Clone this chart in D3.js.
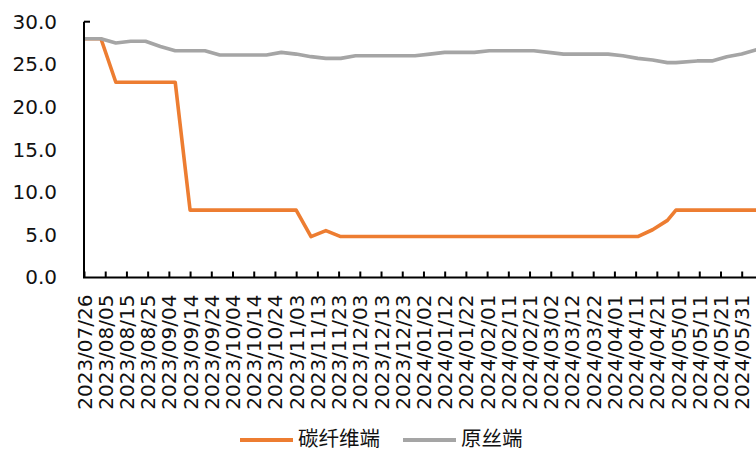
<!DOCTYPE html>
<html><head><meta charset="utf-8">
<script src="https://cdn.jsdelivr.net/npm/d3@7"></script>
<style>html,body{margin:0;padding:0;background:#fff;overflow:hidden}</style>
</head><body>
<svg id="chart" width="756" height="452"></svg>
<script>
// ---- data ----
const dates = ["2023/07/26","2023/08/03","2023/08/10","2023/08/17","2023/08/24","2023/08/31","2023/09/07","2023/09/14","2023/09/21","2023/09/28",
  "2023/10/13","2023/10/20","2023/10/27","2023/11/03","2023/11/10","2023/11/17","2023/11/24","2023/12/01","2023/12/08","2023/12/15",
  "2023/12/22","2023/12/29","2024/01/05","2024/01/12","2024/01/19","2024/01/26","2024/02/02","2024/02/09","2024/02/16","2024/02/23",
  "2024/03/01","2024/03/08","2024/03/15","2024/03/22","2024/03/29","2024/04/05","2024/04/12","2024/04/19","2024/04/26","2024/04/30",
  "2024/05/10","2024/05/17","2024/05/24","2024/05/31","2024/06/07"];
const carbonFiber = [28.0,28.0,22.9,22.9,22.9,22.9,22.9,7.9,7.9,7.9,
  7.9,7.9,7.9,7.9,4.8,5.5,4.8,4.8,4.8,4.8,
  4.8,4.8,4.8,4.8,4.8,4.8,4.8,4.8,4.8,4.8,
  4.8,4.8,4.8,4.8,4.8,4.8,4.8,5.6,6.7,7.9,
  7.9,7.9,7.9,7.9,7.9];
const precursor = [28.0,28.0,27.5,27.7,27.7,27.1,26.6,26.6,26.6,26.1,
  26.1,26.1,26.4,26.2,25.9,25.7,25.7,26.0,26.0,26.0,
  26.0,26.0,26.2,26.4,26.4,26.4,26.6,26.6,26.6,26.6,
  26.4,26.2,26.2,26.2,26.2,26.0,25.7,25.5,25.2,25.2,
  25.4,25.4,25.9,26.2,26.7];
const seriesNames = ["碳纤维端","原丝端"];
const seriesColors = ["#ED7D31","#A5A5A5"];
const yTicks = [0,5,10,15,20,25,30];
const xTickLabels = ["2023/07/26","2023/08/05","2023/08/15","2023/08/25","2023/09/04","2023/09/14","2023/09/24","2023/10/04",
  "2023/10/14","2023/10/24","2023/11/03","2023/11/13","2023/11/23","2023/12/03","2023/12/13","2023/12/23",
  "2024/01/02","2024/01/12","2024/01/22","2024/02/01","2024/02/11","2024/02/21","2024/03/02","2024/03/12",
  "2024/03/22","2024/04/01","2024/04/11","2024/04/21","2024/05/01","2024/05/11","2024/05/21","2024/05/31"];

// ---- layout ----
const W = 756, H = 452;
const parse = d3.timeParse("%Y/%m/%d");
const tickDates = xTickLabels.map(parse);
const x = d3.scaleTime().domain([tickDates[0], tickDates[tickDates.length-1]]).range([84, 741.7]);
const y = d3.scaleLinear().domain([0, 30]).range([277.5, 21.7]);
const svg = d3.select("#chart");
const labelFont = "'DejaVu Sans', sans-serif";

// lines
const series = [carbonFiber, precursor];
const line = d3.line().x(d => x(d.date)).y(d => y(d.v));
series.forEach((vals, i) => {
  const pts = dates.map((d, j) => ({date: parse(d), v: vals[j]}));
  svg.append("path").datum(pts)
    .attr("d", line)
    .attr("fill", "none")
    .attr("stroke", seriesColors[i])
    .attr("stroke-width", 3.6)
    .attr("stroke-linejoin", "round");
});

// y axis
const yAxis = svg.append("g").attr("transform", `translate(${x.range()[0]},0)`)
  .call(d3.axisLeft(y).tickValues(yTicks).tickSize(0).tickPadding(27).tickFormat(d3.format(".1f")));
yAxis.select(".domain").remove();
yAxis.selectAll("text").attr("font-family", labelFont).attr("font-size", 20).attr("fill", "#111");
yAxis.append("line").attr("x1", 0).attr("x2", 0).attr("y1", y(30)).attr("y2", y(0))
  .attr("stroke", "#000").attr("stroke-width", 2);
yAxis.append("line").attr("x1", 0).attr("x2", 6).attr("y1", y(30)).attr("y2", y(30))
  .attr("stroke", "#000").attr("stroke-width", 2);

// x axis
const xAxis = svg.append("g").attr("transform", `translate(0,${y(0)})`)
  .call(d3.axisBottom(x).tickValues(tickDates).tickSize(-6).tickSizeOuter(0)
    .tickFormat((d, i) => xTickLabels[i]));
xAxis.select(".domain").remove();
xAxis.selectAll(".tick line").attr("stroke", "#000").attr("stroke-width", 2);
xAxis.selectAll("text")
  .attr("transform", "rotate(-90)")
  .attr("x", -17).attr("y", 0).attr("dy", "0.35em")
  .attr("text-anchor", "end")
  .attr("font-family", labelFont).attr("font-size", 20).attr("fill", "#111");
xAxis.append("line").attr("x1", x.range()[0] - 1).attr("x2", W).attr("y1", 0).attr("y2", 0)
  .attr("stroke", "#000").attr("stroke-width", 2);

// legend
const legend = svg.append("g").attr("transform", "translate(0,440)");
const legendX = [240, 403];
seriesNames.forEach((name, i) => {
  const g = legend.append("g").attr("transform", `translate(${legendX[i]},0)`);
  g.append("line").attr("x1", 0).attr("x2", 53).attr("y1", 0).attr("y2", 0)
    .attr("stroke", seriesColors[i]).attr("stroke-width", 4);
  g.append("text").attr("x", 58).attr("y", 0).attr("dy", "0.3em")
    .attr("font-family", "'Noto Sans CJK SC', sans-serif").attr("font-size", 20.5)
    .attr("fill", "#111").text(name);
});
</script>
</body></html>
